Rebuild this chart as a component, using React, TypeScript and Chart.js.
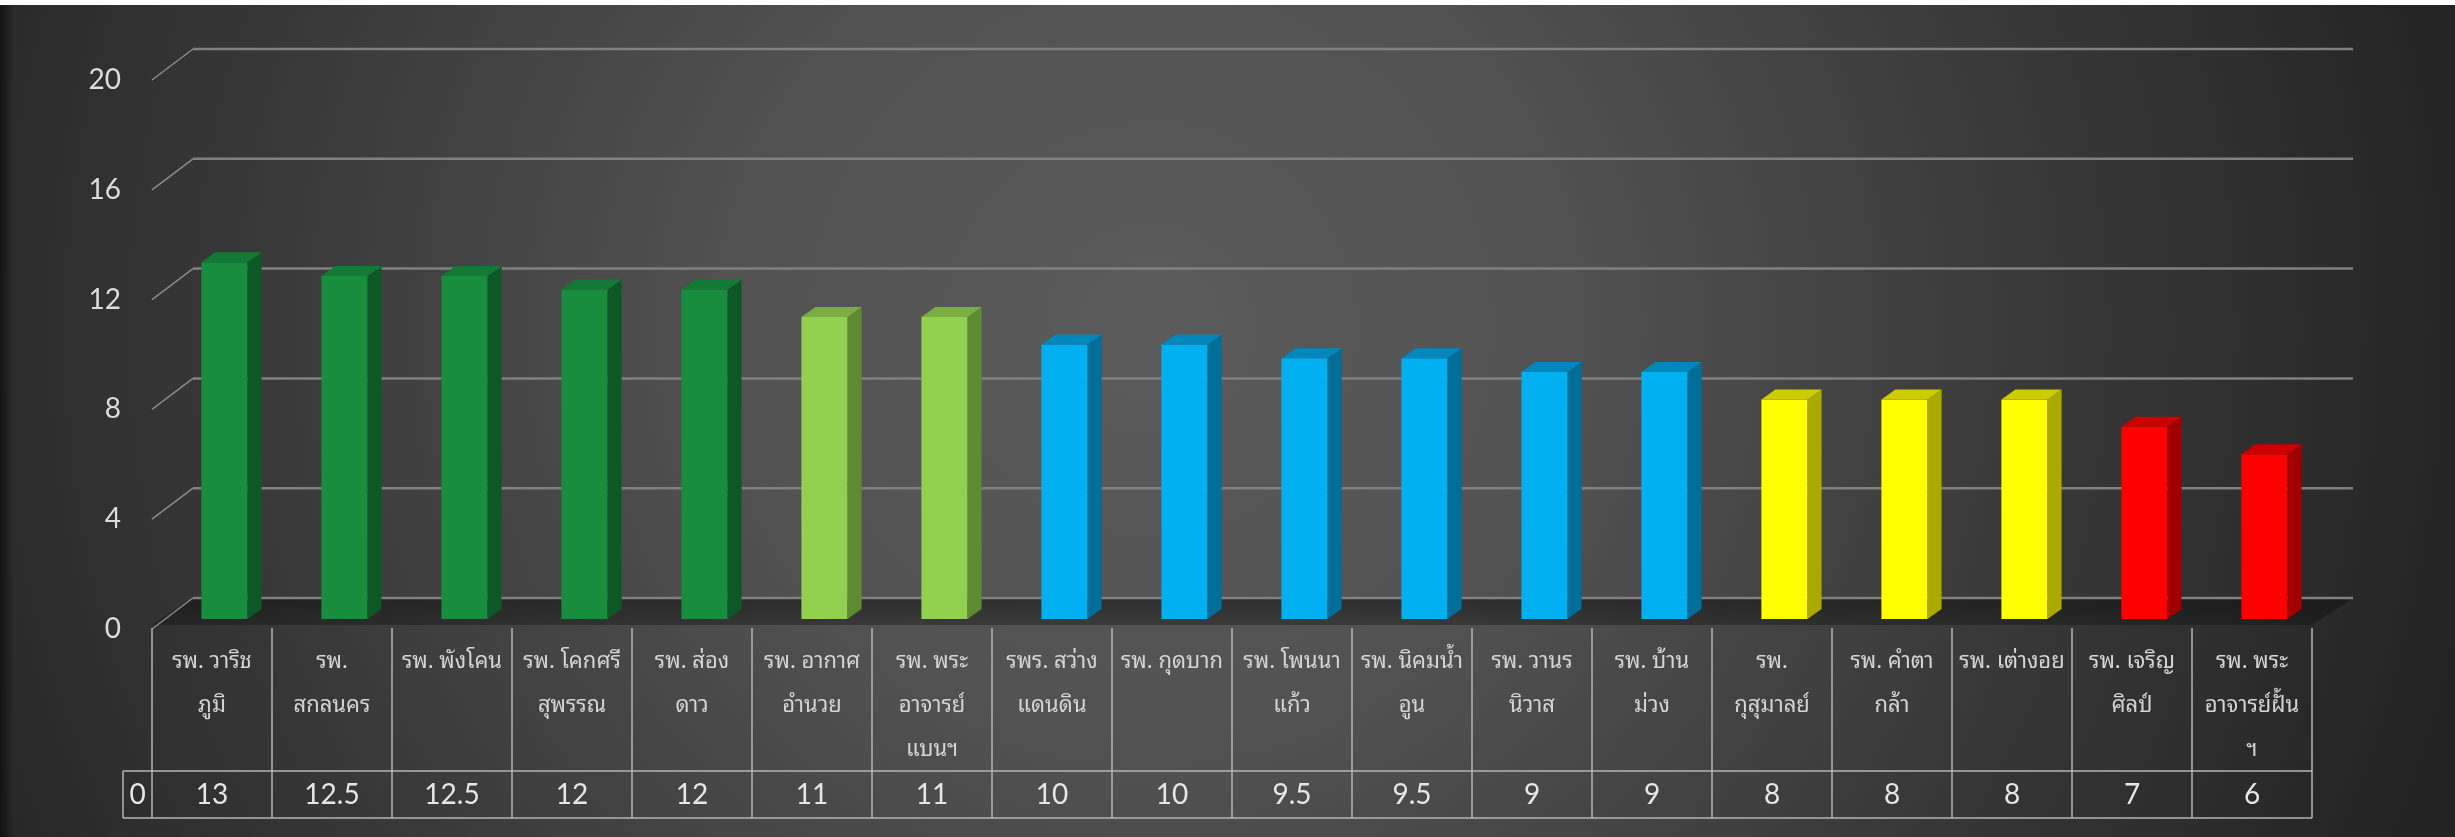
import React, { useEffect, useRef } from "react";
import { Chart, registerables } from "chart.js";

Chart.register(...registerables);

// ---------- data ----------
const hospitals: string[][] = [
  ["รพ. วาริช", "ภูมิ"],
  ["รพ.", "สกลนคร"],
  ["รพ. พังโคน"],
  ["รพ. โคกศรี", "สุพรรณ"],
  ["รพ. ส่อง", "ดาว"],
  ["รพ. อากาศ", "อำนวย"],
  ["รพ. พระ", "อาจารย์", "แบนฯ"],
  ["รพร. สว่าง", "แดนดิน"],
  ["รพ. กุดบาก"],
  ["รพ. โพนนา", "แก้ว"],
  ["รพ. นิคมน้ำ", "อูน"],
  ["รพ. วานร", "นิวาส"],
  ["รพ. บ้าน", "ม่วง"],
  ["รพ.", "กุสุมาลย์"],
  ["รพ. คำตา", "กล้า"],
  ["รพ. เต่างอย"],
  ["รพ. เจริญ", "ศิลป์"],
  ["รพ. พระ", "อาจารย์ฝั้น", "ฯ"],
];
const values: number[] = [13, 12.5, 12.5, 12, 12, 11, 11, 10, 10, 9.5, 9.5, 9, 9, 8, 8, 8, 7, 6];
const colorGroup: number[] = [0, 0, 0, 0, 0, 1, 1, 2, 2, 2, 2, 2, 2, 3, 3, 3, 4, 4];
const frontColors: string[] = ["#178d3d", "#92d050", "#00b0f0", "#ffff00", "#ff0000"];
const sideColors: string[] = ["#0e5828", "#5f8a31", "#006e98", "#a9a900", "#a00000"];
const topColors: string[] = ["#127a34", "#7aae40", "#0088bd", "#cccc00", "#cc0000"];
const yTicks: number[] = [0, 4, 8, 12, 16, 20];
const seriesName = "0";

// ---------- geometry / style ----------
const W = 2455;
const H = 837;
const FRONT_DX = -12.5;
const FRONT_DY = 10;
const BACK_DX = 28.5;
const BACK_DY = -21;
const SIDE_DX = 14;
const SIDE_DY = 10;
const NUM_FONT = "Lato, 'Open Sans', sans-serif";
const THAI_FONT = "'Noto Sans Thai Looped', 'Noto Sans Thai', 'Noto Sans', 'DejaVu Sans', sans-serif";

const bgPlugin = {
  id: "bg3d",
  beforeDraw(chart: any) {
    const ctx = chart.ctx as CanvasRenderingContext2D;
    ctx.save();
    const g = ctx.createRadialGradient(1150, 330, 0, 1150, 330, 1350);
    g.addColorStop(0, "#5b5b5b");
    g.addColorStop(0.3, "#525252");
    g.addColorStop(0.7, "#363636");
    g.addColorStop(1, "#232323");
    ctx.fillStyle = g;
    ctx.fillRect(0, 0, W, H);
    const lg = ctx.createLinearGradient(0, 0, 14, 0);
    lg.addColorStop(0, "rgba(0,0,0,0.55)");
    lg.addColorStop(1, "rgba(0,0,0,0)");
    ctx.fillStyle = lg;
    ctx.fillRect(0, 0, 14, H);
    ctx.fillStyle = "#ffffff";
    ctx.fillRect(0, 0, W, 5);
    ctx.restore();
  },
  beforeDatasetsDraw(chart: any) {
    const ctx = chart.ctx as CanvasRenderingContext2D;
    const a = chart.chartArea;
    const y = chart.scales.y;
    const y0 = y.getPixelForValue(0);
    ctx.save();
    // floor
    const fg = ctx.createLinearGradient(0, y0 + BACK_DY, 0, y0 + FRONT_DY);
    fg.addColorStop(0, "rgba(15,15,15,0.55)");
    fg.addColorStop(1, "rgba(15,15,15,0.35)");
    ctx.fillStyle = fg;
    ctx.beginPath();
    ctx.moveTo(a.left + FRONT_DX, y0 + FRONT_DY - 4);
    ctx.lineTo(a.left + BACK_DX, y0 + BACK_DY);
    ctx.lineTo(a.right + BACK_DX, y0 + BACK_DY);
    ctx.lineTo(a.right + FRONT_DX, y0 + FRONT_DY - 4);
    ctx.closePath();
    ctx.fill();
    // grid lines on the back wall + diagonal connectors
    for (const v of yTicks) {
      const py = y.getPixelForValue(v);
      ctx.strokeStyle = "#808080";
      ctx.lineWidth = 2.5;
      ctx.beginPath();
      ctx.moveTo(a.left + BACK_DX, py + BACK_DY);
      ctx.lineTo(a.right + BACK_DX, py + BACK_DY);
      ctx.stroke();
      ctx.lineWidth = 1.5;
      ctx.strokeStyle = "#8a8a8a";
      ctx.beginPath();
      ctx.moveTo(a.left + FRONT_DX, py + FRONT_DY);
      ctx.lineTo(a.left + BACK_DX, py + BACK_DY);
      ctx.stroke();
    }
    ctx.restore();
  },
  afterDatasetsDraw(chart: any) {
    const ctx = chart.ctx as CanvasRenderingContext2D;
    const meta = chart.getDatasetMeta(0);
    ctx.save();
    meta.data.forEach((el: any, i: number) => {
      const { x, y, base, width } = el.getProps(["x", "y", "base", "width"], true);
      const l = x - width / 2;
      const r = x + width / 2;
      const gi = colorGroup[i];
      // side face
      ctx.fillStyle = sideColors[gi];
      ctx.beginPath();
      ctx.moveTo(r, y);
      ctx.lineTo(r + SIDE_DX, y - SIDE_DY);
      ctx.lineTo(r + SIDE_DX, base - SIDE_DY);
      ctx.lineTo(r, base);
      ctx.closePath();
      ctx.fill();
      // top face
      ctx.fillStyle = topColors[gi];
      ctx.beginPath();
      ctx.moveTo(l, y);
      ctx.lineTo(l + SIDE_DX, y - SIDE_DY);
      ctx.lineTo(r + SIDE_DX, y - SIDE_DY);
      ctx.lineTo(r, y);
      ctx.closePath();
      ctx.fill();
    });
    ctx.restore();
  },
  afterDraw(chart: any) {
    const ctx = chart.ctx as CanvasRenderingContext2D;
    const a = chart.chartArea;
    const xs = chart.scales.x;
    const n = values.length;
    const half = (xs.getPixelForValue(1) - xs.getPixelForValue(0)) / 2;
    const frontLeft = xs.getPixelForValue(0) - half + FRONT_DX;
    const frontRight = xs.getPixelForValue(n - 1) + half + FRONT_DX;
    const top = a.bottom + 9;
    const rowTop = a.bottom + 152;
    const rowBot = a.bottom + 199;
    const keyLeft = frontLeft - 29;
    ctx.save();
    ctx.strokeStyle = "#b4b4b4";
    ctx.lineWidth = 1.5;
    ctx.beginPath();
    for (let k = 0; k <= n; k++) {
      const bx = k < n ? xs.getPixelForValue(k) - half + FRONT_DX : frontRight;
      ctx.moveTo(bx, top);
      ctx.lineTo(bx, rowBot);
    }
    ctx.moveTo(keyLeft, rowTop);
    ctx.lineTo(keyLeft, rowBot);
    ctx.moveTo(keyLeft, rowTop);
    ctx.lineTo(frontRight, rowTop);
    ctx.moveTo(keyLeft, rowBot);
    ctx.lineTo(frontRight, rowBot);
    ctx.stroke();
    ctx.fillStyle = "#e6e6e6";
    ctx.font = `28px ${NUM_FONT}`;
    ctx.textAlign = "center";
    ctx.textBaseline = "middle";
    const ty = (rowTop + rowBot) / 2;
    values.forEach((v, i) => {
      ctx.fillText(String(v), xs.getPixelForValue(i) + FRONT_DX, ty);
    });
    ctx.fillText(seriesName, (keyLeft + frontLeft) / 2, ty);
    ctx.restore();
  },
};

export default function App() {
  const ref = useRef<HTMLCanvasElement | null>(null);
  useEffect(() => {
    document.body.style.margin = "0";
    document.body.style.overflow = "hidden";
    const canvas = ref.current!;
    const chart = new Chart(canvas, {
      type: "bar",
      data: {
        labels: hospitals,
        datasets: [
          {
            label: seriesName,
            data: values,
            backgroundColor: colorGroup.map((g) => frontColors[g]),
            borderWidth: 0,
            categoryPercentage: 1,
            barPercentage: 0.385,
          },
        ],
      },
      options: {
        responsive: false,
        devicePixelRatio: 1,
        animation: false,
        layout: { padding: { left: 64.5, right: 130.5, top: 70, bottom: 0 } },
        plugins: { legend: { display: false }, tooltip: { enabled: false } },
        scales: {
          x: {
            grid: { display: false, drawTicks: false },
            border: { display: false },
            afterFit: (s: any) => {
              s.height = 218;
            },
            ticks: {
              autoSkip: false,
              maxRotation: 0,
              minRotation: 0,
              padding: 20.7,
              labelOffset: FRONT_DX,
              color: "#d4d4d4",
              font: { family: THAI_FONT, size: 22, lineHeight: 2 },
            },
          },
          y: {
            min: 0,
            max: 20,
            grid: { display: false, drawTicks: false },
            border: { display: false },
            afterFit: (s: any) => {
              s.width = 100;
            },
            afterBuildTicks: (s: any) => {
              s.ticks = yTicks.map((v) => ({ value: v }));
            },
            ticks: {
              padding: 43.5,
              labelOffset: FRONT_DY,
              color: "#dcdcdc",
              font: { family: NUM_FONT, size: 28 },
            },
          },
        },
      },
      plugins: [bgPlugin],
    });
    return () => chart.destroy();
  }, []);
  return <canvas ref={ref} width={W} height={H} style={{ display: "block", width: W, height: H }} />;
}
